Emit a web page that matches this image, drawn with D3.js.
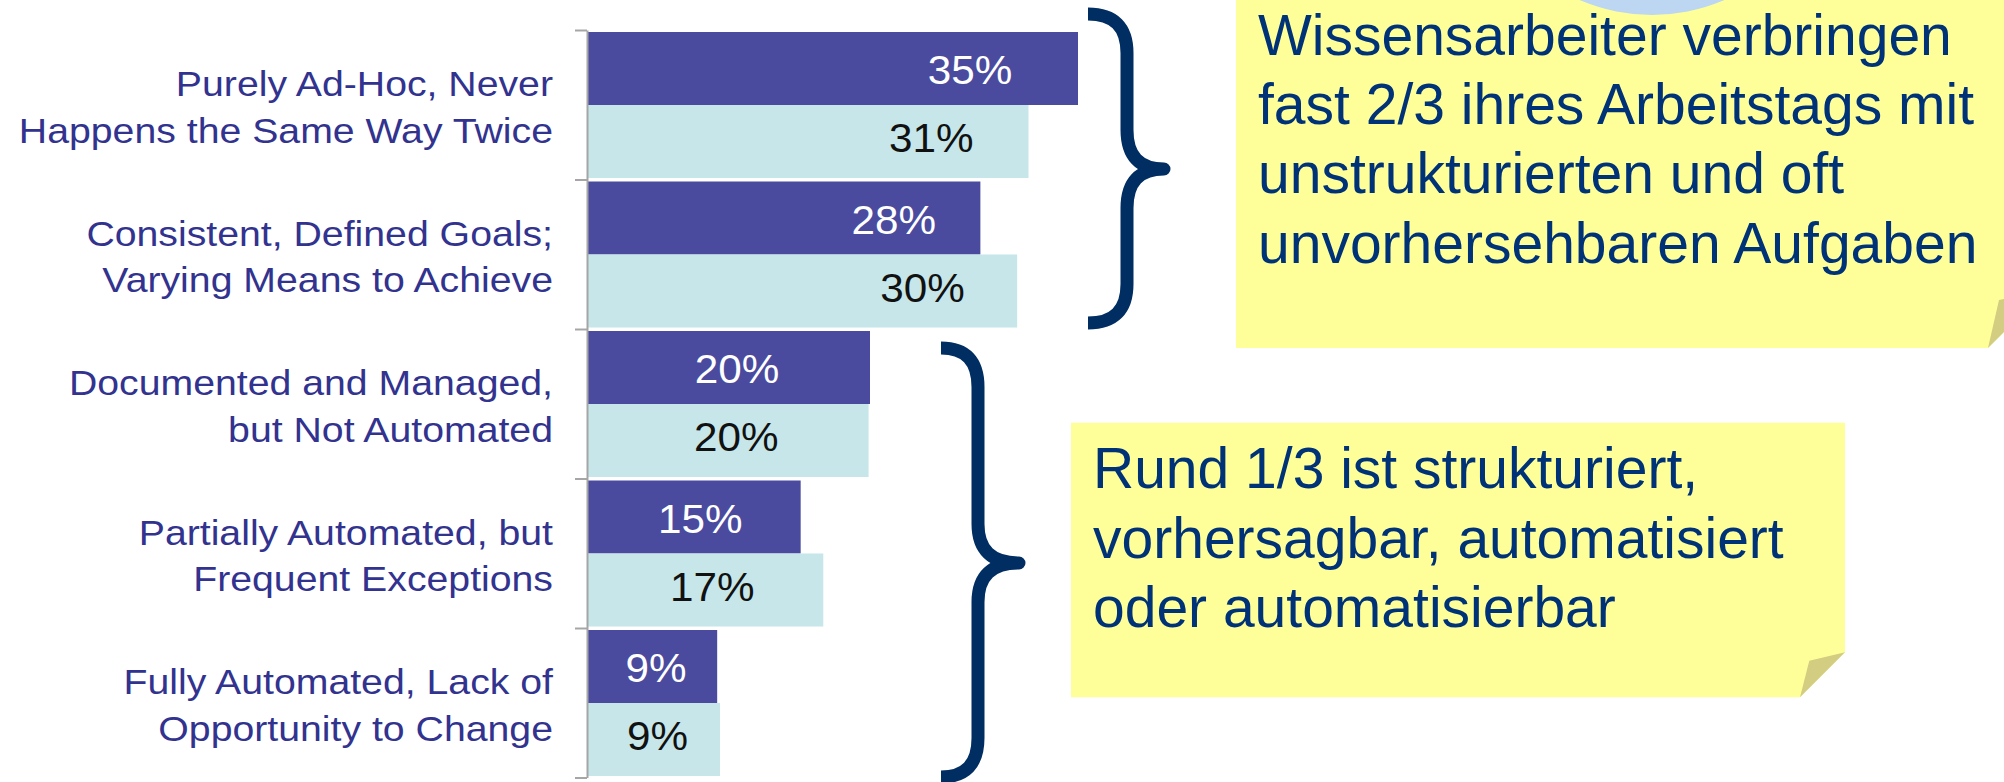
<!DOCTYPE html>
<html>
<head>
<meta charset="utf-8">
<script src="https://cdn.jsdelivr.net/npm/d3@7"></script>
<style>
  html, body { margin: 0; padding: 0; background: #ffffff; }
  svg { display: block; }
  text { font-family: "Liberation Sans", Arial, sans-serif; }
</style>
</head>
<body>
<svg id="chart" width="2004" height="782"></svg>
<script>
// ---- data ----
const categories = [
  ["Purely Ad-Hoc, Never", "Happens the Same Way Twice"],
  ["Consistent, Defined Goals;", "Varying Means to Achieve"],
  ["Documented and Managed,", "but Not Automated"],
  ["Partially Automated, but", "Frequent Exceptions"],
  ["Fully Automated, Lack of", "Opportunity to Change"]
];
const seriesDark  = [34.7, 27.8, 20.0, 15.1, 9.2];
const seriesLight = [31.2, 30.4, 19.9, 16.7, 9.4];
const note1Lines = [
  "Wissensarbeiter verbringen",
  "fast 2/3 ihres Arbeitstags mit",
  "unstrukturierten und oft",
  "unvorhersehbaren Aufgaben"
];
const note2Lines = [
  "Rund 1/3 ist strukturiert,",
  "vorhersagbar, automatisiert",
  "oder automatisierbar"
];

// ---- layout / styles ----
const svg = d3.select("#chart");
const W = 2004, H = 782;
const colDark = "#4A4B9E", colLight = "#C6E6EA";
const colCat = "#32338F", colNoteText = "#003278", colBrace = "#002D62";
const noteFill = "#FFFF99", foldFill = "#D2CD80";

const x = d3.scaleLinear().domain([0, 40]).range([587, 1153]);
const idx = d3.range(categories.length);
const y = d3.scaleBand().domain(idx).range([30, 777.5]).paddingInner(0).paddingOuter(0);
const yEdge = d3.scaleLinear().domain([0, categories.length]).range([30, 777.5]);
const fmt = v => d3.format(".0f")(v) + "%";

// ---- notes (background) ----
function note(g, L, T, R, B, cut, inner) {
  g.append("polygon")
    .attr("points", [[L, T], [R, T], [R, B - cut], [R - cut, B], [L, B]].map(p => p.join(",")).join(" "))
    .attr("fill", noteFill);
  g.append("polygon")
    .attr("points", [[R, B - cut], [R - cut + inner[0], B + inner[1]], [R - cut, B]].map(p => p.join(",")).join(" "))
    .attr("fill", foldFill);
}
const notes = svg.append("g");
note(notes, 1236, -10, 2046, 348, 58, [11, -48]);
notes.append("circle").attr("cx", 1652).attr("cy", -168).attr("r", 183).attr("fill", "#BDD7F2");
note(notes, 1071, 422.7, 1845, 697.3, 45, [9.3, -36.6]);

notes.append("g").selectAll("text").data(note1Lines).join("text")
  .attr("x", 1258).attr("y", (d, i) => 55 + i * 69.2)
  .attr("font-size", 57).attr("fill", colNoteText).text(d => d);
notes.append("g").selectAll("text").data(note2Lines).join("text")
  .attr("x", 1093).attr("y", (d, i) => 488.3 + i * 69.2)
  .attr("font-size", 57).attr("fill", colNoteText).text(d => d);

// ---- braces ----
function bracePath(x0, xs, xt, top, mid, bot, r) {
  const p = d3.path();
  p.moveTo(x0, top);
  p.quadraticCurveTo(xs, top, xs, top + r);
  p.lineTo(xs, mid - r);
  p.quadraticCurveTo(xs, mid, xt, mid);
  p.quadraticCurveTo(xs, mid, xs, mid + r);
  p.lineTo(xs, bot - r);
  p.quadraticCurveTo(xs, bot, x0, bot);
  return p.toString();
}
svg.append("path").attr("d", bracePath(1088, 1127, 1164, 14, 169, 323, 39))
  .attr("fill", "none").attr("stroke", colBrace).attr("stroke-width", 13)
  .attr("stroke-linejoin", "round");
svg.append("path").attr("d", bracePath(941, 978, 1019, 348, 563, 777, 39))
  .attr("fill", "none").attr("stroke", colBrace).attr("stroke-width", 13)
  .attr("stroke-linejoin", "round");

// ---- bars ----
const barH = (y.bandwidth() - 3.5) / 2;
const gBars = svg.append("g");
gBars.selectAll("rect.dark").data(idx).join("rect").attr("class", "dark")
  .attr("x", x(0)).attr("y", i => y(i) + 2)
  .attr("width", i => x(seriesDark[i]) - x(0)).attr("height", barH)
  .attr("fill", colDark);
gBars.selectAll("rect.light").data(idx).join("rect").attr("class", "light")
  .attr("x", x(0)).attr("y", i => y(i) + 2 + barH)
  .attr("width", i => x(seriesLight[i]) - x(0)).attr("height", barH)
  .attr("fill", colLight);

// value labels
const frac = i => (i < 2 ? 0.78 : 0.53);
function valueLabel(sel, values, dy, color) {
  sel.selectAll("text").data(idx).join("text")
    .attr("transform", i => `translate(${x(values[i] * frac(i))},${y(i) + dy}) scale(1.03,1)`)
    .attr("text-anchor", "middle").attr("font-size", 41).attr("fill", color)
    .text(i => fmt(values[i]));
}
valueLabel(svg.append("g"), seriesDark, 54, "#ffffff");
valueLabel(svg.append("g"), seriesLight, 122, "#111111");

// ---- axis ----
const axis = svg.append("g").attr("transform", `translate(${x(0)},0)`)
  .call(d3.axisLeft(yEdge).tickValues(d3.range(categories.length + 1)).tickSize(12).tickSizeOuter(0).tickFormat(""));
axis.selectAll("path, line").attr("stroke", "#A6A6A6").attr("stroke-width", 2);

// category labels
const gCat = svg.append("g");
idx.forEach(i => {
  const cy = y(i) + y.bandwidth() / 2;
  categories[i].forEach((line, j) => {
    gCat.append("text")
      .attr("transform", `translate(553,${cy + (j === 0 ? -8.5 : 38)}) scale(1.09,1)`)
      .attr("text-anchor", "end").attr("font-size", 36).attr("fill", colCat)
      .text(line);
  });
});
</script>
</body>
</html>
